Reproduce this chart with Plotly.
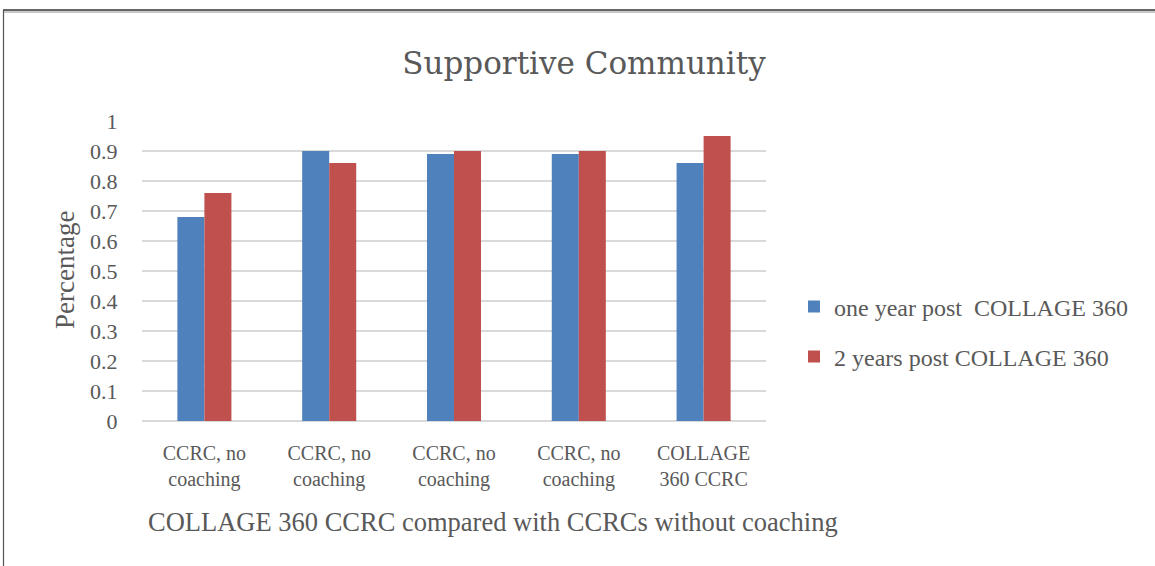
import plotly.graph_objects as go

categories = ["CCRC, no<br>coaching", "CCRC, no<br>coaching", "CCRC, no<br>coaching",
              "CCRC, no<br>coaching", "COLLAGE<br>360 CCRC"]
one_year = [0.68, 0.90, 0.89, 0.89, 0.86]
two_years = [0.76, 0.86, 0.90, 0.90, 0.95]
series_names = ["one year post  COLLAGE 360", "2 years post COLLAGE 360"]
y_ticks = [0, 0.1, 0.2, 0.3, 0.4, 0.5, 0.6, 0.7, 0.8, 0.9, 1]
y_tick_text = ["0", "0.1", "0.2", "0.3", "0.4", "0.5", "0.6", "0.7", "0.8", "0.9", "1"]

W, H = 1155, 566
L, R, T, B = 142, 766, 121, 421
pw, ph = R - L, B - T

def px(x):
    return (x - L) / pw

def py(y):
    return (B - y) / ph

TXT = "#595959"
FONT = "Liberation Serif"
xs = list(range(len(categories)))

fig = go.Figure()
fig.add_trace(go.Bar(x=xs, y=one_year, name=series_names[0], marker_color="#4F81BD",
                     marker_line_width=0, legend="legend"))
fig.add_trace(go.Bar(x=xs, y=two_years, name=series_names[1], marker_color="#C0504D",
                     marker_line_width=0, legend="legend2"))

legend_common = dict(font=dict(family=FONT, size=24, color=TXT), bgcolor="rgba(0,0,0,0)",
                     xanchor="left", yanchor="middle", itemwidth=30)

fig.update_layout(
    width=W, height=H,
    margin=dict(l=L, r=W - R, t=T, b=H - B, autoexpand=False),
    paper_bgcolor="white", plot_bgcolor="white",
    barmode="group", bargap=0.567, bargroupgap=0,
    title=dict(text="Supportive Community", x=px(584), xref="paper", xanchor="center",
               y=1 - 63 / H, yref="container", yanchor="middle",
               font=dict(family="DejaVu Serif", size=31, color=TXT)),
    xaxis=dict(range=[-0.5, 4.5], tickvals=xs, ticktext=categories, showgrid=False,
               zeroline=False, showline=False, ticks="outside", ticklen=14,
               tickcolor="rgba(0,0,0,0)",
               tickfont=dict(family=FONT, size=20, color=TXT)),
    yaxis=dict(range=[0, 1], tickvals=y_ticks, ticktext=y_tick_text, showgrid=True,
               gridcolor="#D9D9D9", gridwidth=2, zeroline=True, zerolinecolor="#D9D9D9",
               zerolinewidth=2, showline=False, ticks="outside", ticklen=19,
               tickcolor="rgba(0,0,0,0)",
               tickfont=dict(family=FONT, size=22, color=TXT)),
    legend=dict(x=px(794), y=py(307), **legend_common),
    legend2=dict(x=px(794), y=py(357), **legend_common),
    showlegend=True,
)

fig.add_annotation(text="COLLAGE 360 CCRC compared with CCRCs without coaching",
                   xref="paper", yref="paper", x=px(493), y=py(522),
                   xanchor="center", yanchor="middle", showarrow=False,
                   font=dict(family=FONT, size=26.5, color=TXT))
fig.add_annotation(text="Percentage", xref="paper", yref="paper", x=px(65), y=py(270),
                   xanchor="center", yanchor="middle", textangle=-90, showarrow=False,
                   font=dict(family=FONT, size=27, color=TXT))

# outer frame (top and left edges)
fig.add_shape(type="line", xref="paper", yref="paper", x0=px(3), x1=px(1160),
              y0=py(12), y1=py(12), line=dict(color="#C8C8C8", width=2), layer="above")
fig.add_shape(type="line", xref="paper", yref="paper", x0=px(3), x1=px(1160),
              y0=py(10), y1=py(10), line=dict(color="#333333", width=1.5), layer="above")
fig.add_shape(type="line", xref="paper", yref="paper", x0=px(3.5), x1=px(3.5),
              y0=py(10), y1=py(570), line=dict(color="#555555", width=1.2), layer="above")

fig.write_html("out.html", config={"displayModeBar": False},
               post_script="document.body.style.margin='0';document.body.style.overflow='hidden';")
